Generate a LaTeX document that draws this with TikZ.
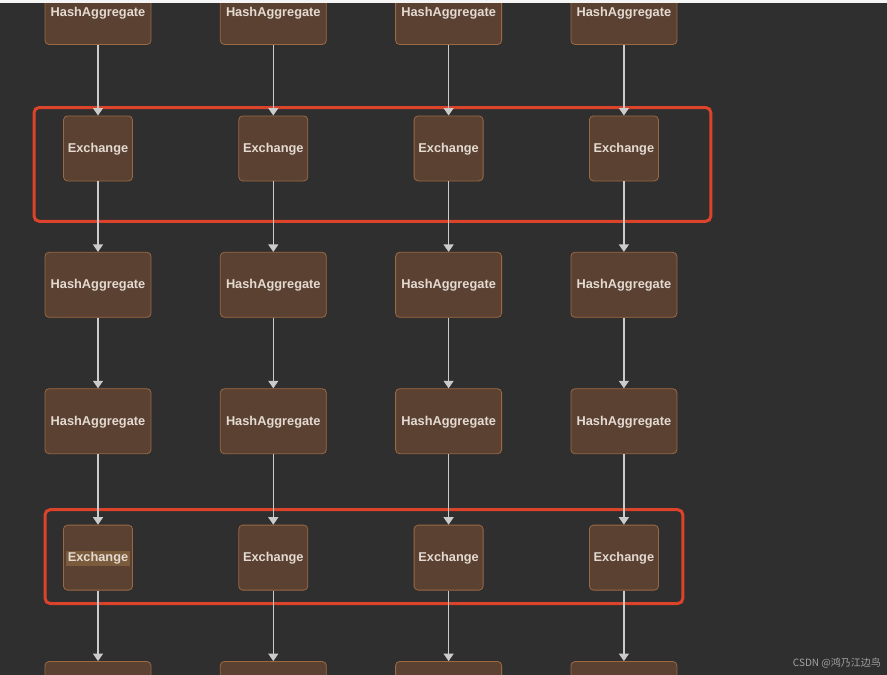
\documentclass[tikz,border=0pt]{standalone}
\usepackage{fontspec}
\setmainfont{Liberation Sans}
\newfontfamily\cjkfont{Noto Sans CJK SC}
\usepackage{xcolor}
\usetikzlibrary{positioning,arrows.meta,calc,backgrounds}
\definecolor{fondo}{HTML}{2F2F2F}
\definecolor{caja}{HTML}{5A4132}
\definecolor{borde}{HTML}{9C6842}
\definecolor{texto}{HTML}{E4DAD2}
\definecolor{linea}{HTML}{CBCBCB}
\definecolor{rojo}{HTML}{DC432B}
\definecolor{resalte}{HTML}{7A5B3B}
\definecolor{marcaagua}{HTML}{A3A3A3}
\setlength{\fboxsep}{1.5pt}
\tikzset{
  agregado/.style    = {draw=borde, fill=caja, rounded corners=4pt, line width=0.8pt,
                        align=center, text=texto, inner sep=0pt,
                        font=\fontsize{12.8}{14}\selectfont\bfseries,
                        text height=9.5pt, text depth=1.5pt,
                        minimum width=106pt, minimum height=65pt},
  intercambio/.style = {agregado, minimum width=69pt},
  marco/.style       = {draw=rojo, line width=3pt, rounded corners=5pt},
  flecha/.style      = {draw=linea, line width=1.3pt, -{Triangle[length=7.5pt, width=10pt]}}
}

\begin{document}
\begin{tikzpicture}[x=1pt, y=-1pt, on grid, node distance=136.4pt and 175.3pt]
    \useasboundingbox (0,0) rectangle (887,675);
    \clip (0,0) rectangle (887,675);

    \node[agregado] (ha1) at (98,12) {HashAggregate};
    \node[agregado, right=of ha1] (ha2) {HashAggregate};
    \node[agregado, right=of ha2] (ha3) {HashAggregate};
    \node[agregado, right=of ha3] (ha4) {HashAggregate};

    \node[intercambio, below=of ha1] (ex1) {Exchange};
    \node[intercambio, below=of ha2] (ex2) {Exchange};
    \node[intercambio, below=of ha3] (ex3) {Exchange};
    \node[intercambio, below=of ha4] (ex4) {Exchange};

    \node[agregado, below=of ex1] (hb1) {HashAggregate};
    \node[agregado, below=of ex2] (hb2) {HashAggregate};
    \node[agregado, below=of ex3] (hb3) {HashAggregate};
    \node[agregado, below=of ex4] (hb4) {HashAggregate};

    \node[agregado, below=of hb1] (hc1) {HashAggregate};
    \node[agregado, below=of hb2] (hc2) {HashAggregate};
    \node[agregado, below=of hb3] (hc3) {HashAggregate};
    \node[agregado, below=of hb4] (hc4) {HashAggregate};

    \node[intercambio, below=of hc1] (ey1) {\colorbox{resalte}{Exchange}};
    \node[intercambio, below=of hc2] (ey2) {Exchange};
    \node[intercambio, below=of hc3] (ey3) {Exchange};
    \node[intercambio, below=of hc4] (ey4) {Exchange};

    % fila inferior, cortada por el borde
    \node[agregado, below=of ey1] (hd1) {};
    \node[agregado, below=of ey2] (hd2) {};
    \node[agregado, below=of ey3] (hd3) {};
    \node[agregado, below=of ey4] (hd4) {};

    \draw[flecha] (ha1) -- (ex1);
    \draw[flecha] (ha2) -- (ex2);
    \draw[flecha] (ha3) -- (ex3);
    \draw[flecha] (ha4) -- (ex4);

    \draw[flecha] (ex1) -- (hb1);
    \draw[flecha] (ex2) -- (hb2);
    \draw[flecha] (ex3) -- (hb3);
    \draw[flecha] (ex4) -- (hb4);

    \draw[flecha] (hb1) -- (hc1);
    \draw[flecha] (hb2) -- (hc2);
    \draw[flecha] (hb3) -- (hc3);
    \draw[flecha] (hb4) -- (hc4);

    \draw[flecha] (hc1) -- (ey1);
    \draw[flecha] (hc2) -- (ey2);
    \draw[flecha] (hc3) -- (ey3);
    \draw[flecha] (hc4) -- (ey4);

    \draw[flecha] (ey1) -- (hd1);
    \draw[flecha] (ey2) -- (hd2);
    \draw[flecha] (ey3) -- (hd3);
    \draw[flecha] (ey4) -- (hd4);

    \begin{scope}[on background layer]
      \fill[fondo] (0,0) rectangle (887,675);
      % marcos rojos
      \draw[marco] ($(ex1.north west)+(-29,-8)$) rectangle ($(ex4.south east)+(52,40)$);
      \draw[marco] ($(ey1.north west)+(-18,-15)$) rectangle ($(ey4.south east)+(24,13)$);
    \end{scope}

    \fill[white!92!gray] (0,0) rectangle (887,3);
    \node[anchor=east, text=marcaagua, inner sep=0pt, font=\cjkfont\fontsize{10}{11}\selectfont] (marca) at (881,663) {CSDN @鸿乃江边鸟};
  \end{tikzpicture}
\end{document}
